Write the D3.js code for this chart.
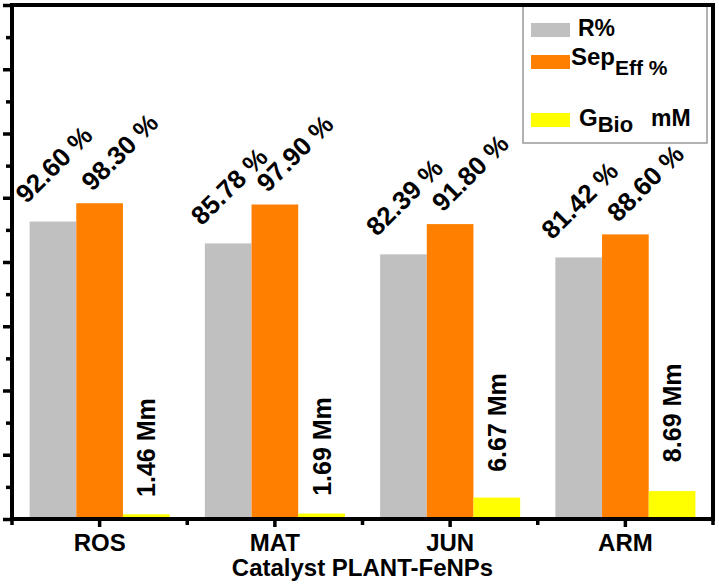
<!DOCTYPE html>
<html>
<head>
<meta charset="utf-8">
<script src="https://cdn.jsdelivr.net/npm/d3@7"></script>
<style>
  body { margin: 0; background: #fff; }
  svg { display: block; font-family: "Liberation Sans", Arial, sans-serif; font-weight: bold; }
</style>
</head>
<body>
<div class="viz"></div>
<script>
/* chart values */
const categories = ["ROS", "MAT", "JUN", "ARM"];
const rValues = [92.60, 85.78, 82.39, 81.42];
const sepValues = [98.30, 97.90, 91.80, 88.60];
const gBioValues = [1.46, 1.69, 6.67, 8.69];
const rLabels = ["92.60 %", "85.78 %", "82.39 %", "81.42 %"];
const sepLabels = ["98.30 %", "97.90 %", "91.80 %", "88.60 %"];
const gBioLabels = ["1.46 Mm", "1.69 Mm", "6.67 Mm", "8.69 Mm"];
const seriesKeys = ["r", "sep", "gbio"];
const seriesColors = ["#c0c0c0", "#ff8000", "#ffff00"];
const xTitle = "Catalyst PLANT-FeNPs";

const width = 719, height = 584;
const plot = { left: 12, top: 5, right: 713, bottom: 519 };

var svg = d3.select(".viz")
  .append("svg")
  .attr("width", width)
  .attr("height", height);

/* scales */
var x0 = d3.scaleBand()
  .domain(categories)
  .range([plot.left, plot.right])
  .paddingInner(0)
  .paddingOuter(0);

var x1 = d3.scaleBand()
  .domain(seriesKeys)
  .range([17.6, x0.bandwidth() - 17.6]);

var y = d3.scaleLinear()
  .domain([0, 160])
  .range([plot.bottom, plot.top]);

var color = d3.scaleOrdinal().domain(seriesKeys).range(seriesColors);

var rows = categories.map((c, i) => ({
  cat: c,
  bars: [
    { key: "r", value: rValues[i], label: rLabels[i] },
    { key: "sep", value: sepValues[i], label: sepLabels[i] },
    { key: "gbio", value: gBioValues[i], label: gBioLabels[i] }
  ]
}));

/* bars */
var groups = svg.append("g")
  .selectAll("g")
  .data(rows)
  .enter()
  .append("g")
  .attr("transform", (d) => "translate(" + x0(d.cat) + ",0)");

groups.selectAll("rect")
  .data((d) => d.bars)
  .enter()
  .append("rect")
  .attr("x", (d) => x1(d.key))
  .attr("y", (d) => y(d.value))
  .attr("width", x1.bandwidth())
  .attr("height", (d) => y(0) - y(d.value))
  .attr("fill", (d) => color(d.key));

/* value labels: percentages rotated 45deg, glucose vertical */
groups.selectAll("text.pct")
  .data((d) => d.bars.filter((b) => b.key !== "gbio"))
  .enter()
  .append("text")
  .attr("class", "pct")
  .attr("font-size", 26)
  .attr("transform", function (d) {
    var tx = x1(d.key) + (d.key === "r" ? -3 : 16);
    var ty = y(d.value) - (d.key === "r" ? 17 : 11);
    return "translate(" + tx + "," + ty + ") rotate(-45)";
  })
  .text((d) => d.label);

groups.selectAll("text.mm")
  .data((d) => d.bars.filter((b) => b.key === "gbio"))
  .enter()
  .append("text")
  .attr("class", "mm")
  .attr("font-size", 25)
  .attr("transform", function (d) {
    var tx = x1(d.key) + x1.bandwidth() / 2 + 9;
    // taller bars get their label lifted a bit more
    var ty = y(d.value) - 15 - 0.5 * (y(0) - y(d.value));
    return "translate(" + tx + "," + ty + ") rotate(-90)";
  })
  .text((d) => d.label);

/* x axis with category ticks and minor ticks at band edges */
var xaxis = d3.axisBottom(x0).tickSize(8).tickPadding(7);
var gx = svg.append("g")
  .attr("transform", "translate(0," + plot.bottom + ")")
  .call(xaxis);
gx.select(".domain").remove();
gx.selectAll("line").attr("stroke", "#000").attr("stroke-width", 3.5);
gx.selectAll("text").attr("font-size", 24).attr("fill", "#000").attr("dy", "0.7em");

var bandEdges = categories.map((c) => x0(c)).concat([plot.right]);
svg.append("g")
  .selectAll("line")
  .data(bandEdges)
  .enter()
  .append("line")
  .attr("x1", (d) => d).attr("x2", (d) => d)
  .attr("y1", plot.bottom).attr("y2", plot.bottom + 6)
  .attr("stroke", "#000").attr("stroke-width", 3.5);

/* y axis: no labels, major ticks every 20, minor every 10 */
var yaxisMajor = d3.axisLeft(y).tickValues(d3.range(0, 161, 20)).tickSize(9).tickFormat("");
var yaxisMinor = d3.axisLeft(y).tickValues(d3.range(10, 160, 20)).tickSize(6).tickFormat("");
[yaxisMajor, yaxisMinor].forEach(function (ax) {
  var g = svg.append("g")
    .attr("transform", "translate(" + plot.left + ",0)")
    .call(ax);
  g.select(".domain").remove();
  g.selectAll("line").attr("stroke", "#000").attr("stroke-width", 3.5);
});

/* legend */
var legend = svg.append("g").attr("id", "legend");
legend.append("rect")
  .attr("x", 523).attr("y", plot.top)
  .attr("width", 707 - 523).attr("height", 143 - plot.top)
  .attr("fill", "#fff")
  .attr("stroke", "#999")
  .attr("stroke-width", 1.5);

var legendRows = [
  { key: "r", sy: 23 },
  { key: "sep", sy: 55 },
  { key: "gbio", sy: 113 }
];
legend.selectAll("rect.sw")
  .data(legendRows)
  .enter()
  .append("rect")
  .attr("class", "sw")
  .attr("x", 531).attr("y", (d) => d.sy)
  .attr("width", 39).attr("height", 14)
  .attr("fill", (d) => color(d.key));

var t1 = legend.append("text").attr("x", 578).attr("y", 36).attr("font-size", 23);
t1.append("tspan").text("R%");

var t2 = legend.append("text").attr("x", 571).attr("y", 65).attr("font-size", 24);
t2.append("tspan").text("Sep");
t2.append("tspan").attr("dy", 10).attr("font-size", 21).text("Eff %");

var t3 = legend.append("text").attr("x", 579).attr("y", 126).attr("font-size", 24);
t3.append("tspan").text("G");
t3.append("tspan").attr("dy", 6).attr("font-size", 22).text("Bio");
t3.append("tspan").attr("x", 651).attr("dy", -6).attr("font-size", 23).text("mM");

/* frame */
svg.append("rect")
  .attr("x", plot.left).attr("y", plot.top)
  .attr("width", plot.right - plot.left).attr("height", plot.bottom - plot.top)
  .attr("fill", "none")
  .attr("stroke", "#000")
  .attr("stroke-width", 4);

/* x title */
svg.append("text")
  .attr("x", (plot.left + plot.right) / 2)
  .attr("y", 576)
  .attr("text-anchor", "middle")
  .attr("font-size", 24)
  .text(xTitle);
</script>
</body>
</html>
